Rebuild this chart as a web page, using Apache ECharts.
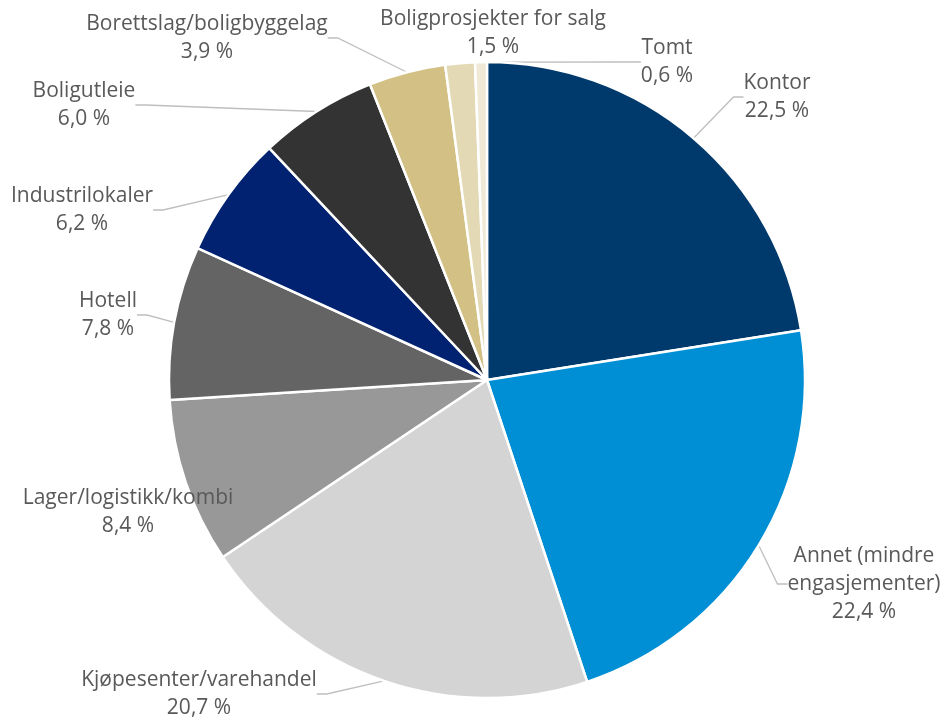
<!DOCTYPE html>
<html>
<head>
<meta charset="utf-8">
<script src="https://cdn.jsdelivr.net/npm/echarts@6/dist/echarts.min.js"></script>
<style>html,body{margin:0;padding:0;background:#fff}#c{width:941px;height:717px}</style>
</head>
<body>
<div id="c"></div>
<script>
const categories = [
  'Kontor',
  'Annet (mindre\nengasjementer)',
  'Kjøpesenter/varehandel',
  'Lager/logistikk/kombi',
  'Hotell',
  'Industrilokaler',
  'Boligutleie',
  'Borettslag/boligbyggelag',
  'Boligprosjekter for salg',
  'Tomt'
];
const values = [22.5, 22.4, 20.7, 8.4, 7.8, 6.2, 6.0, 3.9, 1.5, 0.6];
const colors = ['#00396B', '#008FD4', '#D4D4D4', '#989898', '#646464', '#002270', '#333333', '#D3C085', '#E3D9B5', '#EFE9D5'];
// label centre positions (layout only)
const labelPos = [
  [777, 97], [864, 584], [199, 694], [128, 512], [108, 315],
  [82, 210], [84, 105], [207, 38], [493, 33], [667, 62]
];
const showLine = [true, true, true, false, true, true, true, true, false, true];

const chart = echarts.init(document.getElementById('c'), null, {renderer: 'canvas'});
chart.setOption({
  animation: false,
  backgroundColor: '#ffffff',
  series: [{
    type: 'pie',
    center: [487, 380],
    radius: [0, 318],
    startAngle: 90,
    clockwise: true,
    avoidLabelOverlap: false,
    data: categories.map((n, i) => ({
      name: n,
      value: values[i],
      itemStyle: {color: colors[i]},
      labelLine: {show: showLine[i]}
    })),
    itemStyle: {borderColor: '#ffffff', borderWidth: 2.5},
    label: {
      show: true,
      position: 'outside',
      color: '#595959',
      fontFamily: 'Open Sans',
      fontSize: 21,
      lineHeight: 28,
      align: 'center',
      verticalAlign: 'middle',
      formatter: p => p.name + '\n' + p.value.toFixed(1).replace('.', ',') + ' %'
    },
    labelLine: {
      show: true,
      length: 10,
      length2: 10,
      lineStyle: {color: '#BFBFBF', width: 1.3}
    },
    labelLayout: function (params) {
      const p = labelPos[params.dataIndex];
      return {x: p[0], y: p[1], align: 'center', verticalAlign: 'middle', moveOverlap: null, hideOverlap: false};
    }
  }]
});
</script>
</body>
</html>
